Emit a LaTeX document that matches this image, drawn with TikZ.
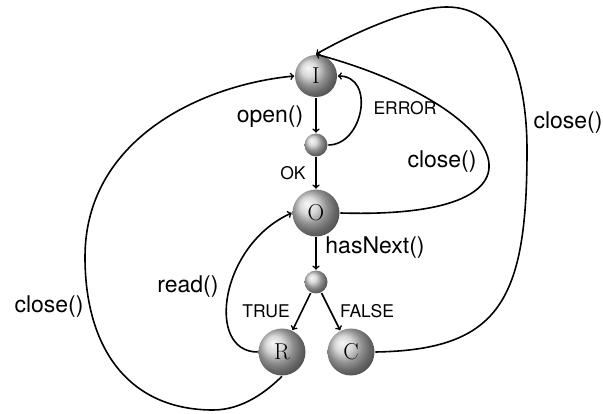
\documentclass[tikz,border=0pt]{standalone}
\usepackage{fontspec}
\newfontfamily\labfont{TeX Gyre Heros}
\begin{document}
\begin{tikzpicture}[x=1pt,y=-1pt, line width=1.6pt, >=to,
  ball/.style={circle, shading=ball, ball color=gray!40, inner sep=0pt},
  state/.style={ball, minimum size=47pt, font=\fontsize{23}{23}\selectfont},
  junction/.style={ball, minimum size=23pt},
  biglab/.style={font=\labfont\fontsize{23}{27}\selectfont, inner sep=0pt},
  smalllab/.style={font=\labfont\fontsize{17.5}{21}\selectfont, inner sep=0pt},
  conn/.style={->}]
\useasboundingbox (0,0) rectangle (603,414);
\node[state, minimum size=42pt] (I) at (316,76) {I};
\node[junction] (j1) at (316,145) {};
\node[state] (O) at (316,213) {O};
\node[junction] (j2) at (316,282) {};
\node[state] (R) at (282,352) {R};
\node[state] (C) at (351,352) {C};

\draw[conn] (I) -- (j1);
\draw[conn] (j1) -- (O);
\draw[conn] (O) -- (j2);
\draw[conn] (j2) -- (R);
\draw[conn] (j2) -- (C);

\draw[conn] (j1.east) .. controls +(35,0) and +(38,0) .. (I.east);
\draw[conn] (O.east) .. controls (575,220) and (505,105) .. (I.north);
\draw[conn] (C.east) .. controls (500,350) and (527,300) .. (527,150)
  .. controls (527,70) and (502,7) .. (447,7)
  .. controls (410,7) and (350,35) .. (I.north);
\draw[conn] (R.south) .. controls (267,391) and (243,410) .. (213,410)
  .. controls (130,410) and (85,350) .. (85,257)
  .. controls (85,140) and (200,85) .. (I.west);
\draw[conn] (R.west) .. controls (205,352) and (220,245) .. (O.west);

\node[biglab] (lopen) at (270,117) {open()};
\node[smalllab] (lerror) at (405,108) {ERROR};
\node[smalllab] (lok) at (293,173) {OK};
\node[biglab] (lclosea) at (442,162) {close()};
\node[biglab] (lhas) at (375,248) {hasNext()};
\node[biglab] (lread) at (188,287) {read()};
\node[smalllab] (ltrue) at (266,311) {TRUE};
\node[smalllab] (lfalse) at (367,311) {FALSE};
\node[biglab] (lcloseb) at (49,307) {close()};
\node[biglab] (lclosec) at (568,123) {close()};
\end{tikzpicture}
\end{document}
